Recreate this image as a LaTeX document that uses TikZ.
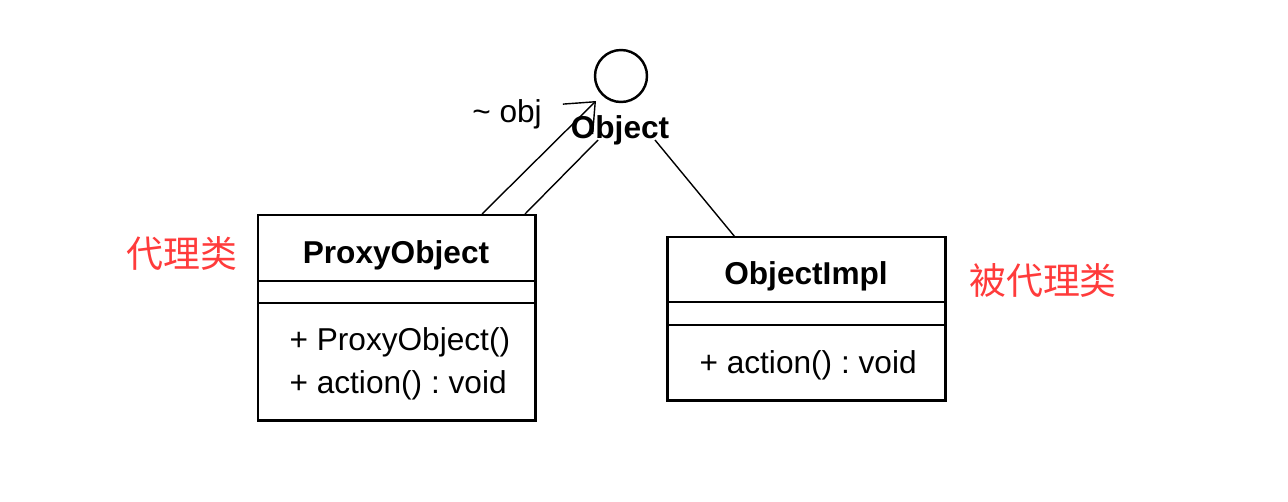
\documentclass[tikz,border=0pt]{standalone}
\usepackage{fontspec}
\usetikzlibrary{arrows.meta}
\setmainfont{Liberation Sans}
\newfontfamily\cjk{Noto Sans CJK SC}
\definecolor{rouge}{HTML}{FF3B3B}

\begin{document}
\frenchspacing
\begin{tikzpicture}[x=0.02cm, y=-0.02cm, line width=0.8pt,
  boite/.style={line width=1.7pt},
  titre/.style={font=\fontsize{18}{20}\selectfont\bfseries, anchor=base},
  methode/.style={font=\fontsize{18}{20}\selectfont, anchor=base west},
  note/.style={font=\cjk\fontsize{21}{24}\selectfont, text=rouge}]
\useasboundingbox (0,0) rectangle (1288,501);
% interface Object
\node[circle, draw, line width=1.4pt, inner sep=0pt, minimum size=1.04cm] (Obj) at (621,76) {};
\node[titre] (ObjLbl) at (620,138) {Object};
\coordinate (Tip) at (596,101) ;
\coordinate (Low) at (598,140) ;
\coordinate (Right) at (655,140) ;
% box ProxyObject
\coordinate (A) at (258,215) ;
\coordinate (B) at (535,420) ;
\draw[boite] (A) rectangle (B) ;
\draw (258,281) -- (535,281) ;
\draw (258,303) -- (535,303) ;
\node[titre] (Proxy) at (396,263) {ProxyObject};
\node[methode] (m1) at (283,350) {+ ProxyObject()};
\node[methode] (m2) at (283,393) {+ action() : void};
%% box ObjectImpl
\coordinate (A1) at (667,237) ;
\coordinate (B1) at (945,400) ;
\draw[boite] (A1) rectangle (B1) ;
\draw (667,302) -- (945,302) ;
\draw (667,325) -- (945,325) ;
\node[titre] (Impl) at (806,284) {ObjectImpl};
\node[methode] (m3) at (693,373) {+ action() : void};
% links
\coordinate (P1) at (482,214) ;
\coordinate (P2) at (525,214) ;
\coordinate (I1) at (735,237) ;
\draw[-{Straight Barb[length=14pt, width=24pt]}] (P1) -- (Tip) ;
\node[anchor=base, font=\fontsize{18}{20}\selectfont] (role) at (507,122) {\textasciitilde{} obj};
\draw (P2) -- (Low) ;
\draw (I1) -- (Right) ;
% notes
\node[note] (n1) at (182,254) {代理类};
\node[note] (n2) at (1043,281) {被代理类};
\end{tikzpicture}
\end{document}
